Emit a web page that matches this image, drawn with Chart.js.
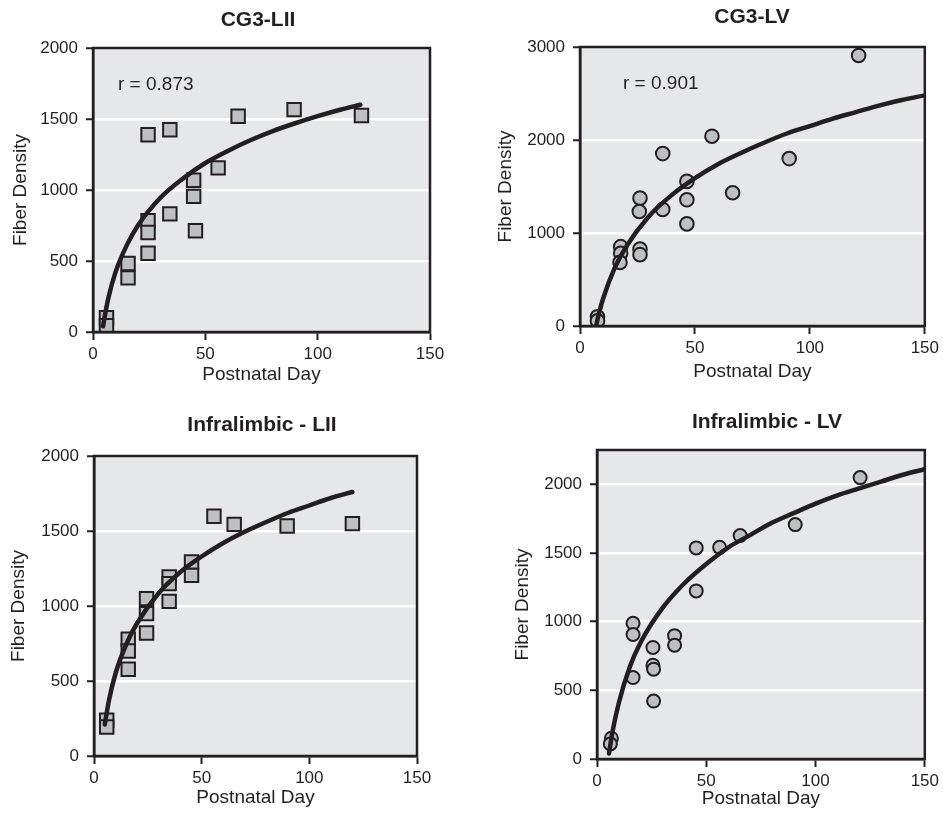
<!DOCTYPE html>
<html><head><meta charset="utf-8">
<script src="https://cdn.jsdelivr.net/npm/chart.js@4.4.1/dist/chart.umd.min.js"></script>
<style>
body{margin:0;background:#fff;width:943px;height:814px;position:relative;overflow:hidden}
canvas{position:absolute}
</style></head><body>
<canvas id="c1" width="470" height="400" style="left:0;top:0"></canvas>
<canvas id="c2" width="463" height="400" style="left:480px;top:0"></canvas>
<canvas id="c3" width="470" height="414" style="left:0;top:400px"></canvas>
<canvas id="c4" width="463" height="414" style="left:480px;top:400px"></canvas>
<script>
// ---- Data ----
const panelTitles = ["CG3-LII", "CG3-LV", "Infralimbic - LII", "Infralimbic - LV"];
const rLabels = ["r = 0.873", "r = 0.901", "", ""];
const xAxisTitle = "Postnatal Day";
const yAxisTitle = "Fiber Density";
const xTickValues = [0, 50, 100, 150];
const yTicksCG3LII = [0, 500, 1000, 1500, 2000];
const yTicksCG3LV = [0, 1000, 2000, 3000];
const yTicksIL_LII = [0, 500, 1000, 1500, 2000];
const yTicksIL_LV = [0, 500, 1000, 1500, 2000];

const cg3LII_day = [6, 6, 15.6, 15.6, 24.5, 24.5, 24.5, 24.5, 34.2, 34.2, 44.8, 44.8, 45.6, 55.7, 64.6, 89.5, 119.5];
const cg3LII_density = [100, 45, 483, 381, 1389, 784, 701, 554, 1424, 832, 1069, 955, 713, 1156, 1519, 1566, 1524];
const cg3LII_fitDay = [4.5, 5, 7, 10, 15, 20, 30, 40, 50, 60, 70, 80, 90, 100, 110, 119];
const cg3LII_fitDensity = [40, 90, 250, 420, 610, 750, 945, 1080, 1190, 1275, 1350, 1415, 1470, 1520, 1565, 1600];

const cg3LV_day = [7.6, 7.6, 17.7, 17.7, 17.4, 26.1, 25.8, 26.1, 26.1, 36, 36, 46.5, 46.5, 46.5, 57.4, 66.4, 91, 121.2];
const cg3LV_density = [100, 55, 853, 781, 684, 1375, 1231, 828, 767, 1854, 1253, 1555, 1357, 1098, 2041, 1433, 1800, 2909];
const cg3LV_fitDay = [7, 8, 10, 15, 20, 30, 40, 50, 60, 70, 80, 90, 100, 110, 120, 130, 140, 150];
const cg3LV_fitDensity = [0, 110, 290, 620, 850, 1180, 1410, 1590, 1740, 1860, 1970, 2070, 2150, 2230, 2300, 2370, 2430, 2480];

const ilLII_day = [5.9, 5.9, 15.9, 15.9, 15.9, 24.4, 24.4, 24.4, 34.9, 34.9, 34.9, 45.3, 45.3, 55.7, 65.1, 89.7, 120];
const ilLII_density = [238, 193, 778, 700, 578, 1049, 949, 820, 1193, 1149, 1031, 1293, 1204, 1598, 1544, 1533, 1549];
const ilLII_fitDay = [5, 7, 10, 15, 20, 30, 40, 50, 60, 70, 80, 90, 100, 110, 120];
const ilLII_fitDensity = [210, 375, 550, 745, 885, 1085, 1225, 1330, 1420, 1495, 1560, 1620, 1670, 1720, 1760];

const ilLV_day = [6.6, 6.1, 16.5, 16.5, 16.5, 25.6, 25.6, 25.9, 25.9, 35.5, 35.5, 45.4, 45.4, 56.1, 65.5, 90.7, 120.4];
const ilLV_density = [151, 110, 988, 907, 593, 812, 683, 654, 422, 898, 829, 1537, 1224, 1541, 1627, 1707, 2049];
const ilLV_fitDay = [5.5, 7, 10, 15, 20, 30, 40, 50, 60, 70, 80, 90, 100, 110, 120, 130, 140, 150];
const ilLV_fitDensity = [40, 190, 410, 670, 850, 1100, 1280, 1420, 1540, 1630, 1720, 1790, 1860, 1920, 1970, 2020, 2070, 2110];

// ---- Styles ----
const FONT = "'Liberation Sans', Arial, Helvetica, sans-serif";
const DARK = '#231f20';
const BG = '#e6e7e8';
const MARK = '#bebfc1';

const panelPlugin = {
  id: 'panel',
  beforeDraw(chart, args, o) {
    const {ctx, chartArea: a} = chart;
    ctx.save();
    ctx.fillStyle = BG;
    ctx.fillRect(a.left, a.top, a.right - a.left, a.bottom - a.top);
    ctx.restore();
  },
  afterDraw(chart, args, o) {
    const {ctx, chartArea: a} = chart;
    ctx.save();
    ctx.strokeStyle = DARK;
    ctx.lineWidth = 2.5;
    ctx.strokeRect(a.left, a.top, a.right - a.left, a.bottom - a.top);
    ctx.fillStyle = DARK;
    ctx.textBaseline = 'middle';
    ctx.textAlign = 'center';
    ctx.font = 'bold 21px ' + FONT;
    ctx.fillText(o.title, o.titleX, o.titleY);
    if (o.r) {
      ctx.textAlign = 'left';
      ctx.font = '19px ' + FONT;
      ctx.fillText(o.r, a.left + o.rDx, a.top + o.rDy);
    }
    ctx.restore();
  }
};

function pts(xs, ys) { return xs.map((x, i) => ({x: x, y: ys[i]})); }

function makeChart(id, cfg) {
  const yTicks = cfg.yTicks;
  const yMax = cfg.yMax;
  new Chart(document.getElementById(id), {
    type: 'scatter',
    data: {
      datasets: [
        {
          data: pts(cfg.fitX, cfg.fitY),
          showLine: true,
          borderColor: DARK,
          borderWidth: 4.5,
          borderCapStyle: 'round',
          pointRadius: 0,
          cubicInterpolationMode: 'monotone',
          fill: false,
          order: 0
        },
        {
          data: pts(cfg.x, cfg.y),
          pointStyle: cfg.style,
          pointRadius: cfg.radius,
          pointBackgroundColor: MARK,
          pointBorderColor: DARK,
          pointBorderWidth: 2,
          order: 1
        }
      ]
    },
    options: {
      responsive: false,
      animation: false,
      devicePixelRatio: 1,
      layout: {padding: cfg.padding},
      plugins: {
        legend: {display: false},
        tooltip: {enabled: false},
        panel: {title: cfg.title, titleX: cfg.titleX, titleY: cfg.titleY, r: cfg.r, rDx: cfg.rDx, rDy: cfg.rDy}
      },
      scales: {
        x: {
          type: 'linear', min: 0, max: 150,
          afterFit(s) { s.height = cfg.xAxisH; },
          afterBuildTicks(s) { s.ticks = xTickValues.map(v => ({value: v})); },
          grid: {drawOnChartArea: false, drawTicks: true, tickLength: 8, tickColor: DARK, tickWidth: 2},
          border: {color: DARK, width: 2.5},
          ticks: {color: DARK, font: {family: FONT, size: 17}, padding: 4, maxRotation: 0, callback: v => String(v)},
          title: {display: true, text: xAxisTitle, color: DARK, font: {family: FONT, size: 19}, padding: {top: 0, bottom: cfg.xTitlePad}}
        },
        y: {
          type: 'linear', min: 0, max: yMax,
          afterFit(s) { s.width = cfg.yAxisW; },
          afterBuildTicks(s) { s.ticks = yTicks.map(v => ({value: v})); },
          grid: {
            color: c => (c.tick && (c.tick.value === 0 || c.tick.value === yMax)) ? 'rgba(0,0,0,0)' : '#ffffff',
            lineWidth: 2.5,
            drawTicks: true, tickLength: 7, tickColor: DARK, tickWidth: 2
          },
          border: {color: DARK, width: 2.5},
          ticks: {color: DARK, font: {family: FONT, size: 17}, padding: 8, callback: v => String(v)},
          title: {display: true, text: yAxisTitle, color: DARK, font: {family: FONT, size: 19}, padding: {top: cfg.yTitlePad, bottom: 0}}
        }
      }
    },
    plugins: [panelPlugin]
  });
}

makeChart('c1', {
  x: cg3LII_day, y: cg3LII_density, fitX: cg3LII_fitDay, fitY: cg3LII_fitDensity,
  style: 'rect', radius: 9.5, yTicks: yTicksCG3LII, yMax: 2000,
  padding: {top: 48, right: 40, left: 0, bottom: 0}, yAxisW: 93, xAxisH: 68,
  xTitlePad: 13.6, yTitlePad: 9,
  title: panelTitles[0], titleX: 258, titleY: 20, r: rLabels[0], rDx: 25, rDy: 37
});
makeChart('c2', {
  x: cg3LV_day, y: cg3LV_density, fitX: cg3LV_fitDay, fitY: cg3LV_fitDensity,
  style: 'circle', radius: 6.8, yTicks: yTicksCG3LV, yMax: 3000,
  padding: {top: 47, right: 18, left: 0, bottom: 0}, yAxisW: 100, xAxisH: 74,
  xTitlePad: 16.6, yTitlePad: 14,
  title: panelTitles[1], titleX: 272, titleY: 17, r: rLabels[1], rDx: 43, rDy: 37
});
makeChart('c3', {
  x: ilLII_day, y: ilLII_density, fitX: ilLII_fitDay, fitY: ilLII_fitDensity,
  style: 'rect', radius: 9.5, yTicks: yTicksIL_LII, yMax: 2000,
  padding: {top: 56, right: 53, left: 0, bottom: 0}, yAxisW: 94, xAxisH: 58,
  xTitlePad: 4.6, yTitlePad: 7,
  title: panelTitles[2], titleX: 262, titleY: 25, r: rLabels[2], rDx: 0, rDy: 0
});
makeChart('c4', {
  x: ilLV_day, y: ilLV_density, fitX: ilLV_fitDay, fitY: ilLV_fitDensity,
  style: 'circle', radius: 6.5, yTicks: yTicksIL_LV, yMax: 2250,
  padding: {top: 50, right: 16, left: 0, bottom: 0}, yAxisW: 117, xAxisH: 55,
  xTitlePad: 3.6, yTitlePad: 31,
  title: panelTitles[3], titleX: 287, titleY: 22, r: rLabels[3], rDx: 0, rDy: 0
});
</script>
</body></html>
